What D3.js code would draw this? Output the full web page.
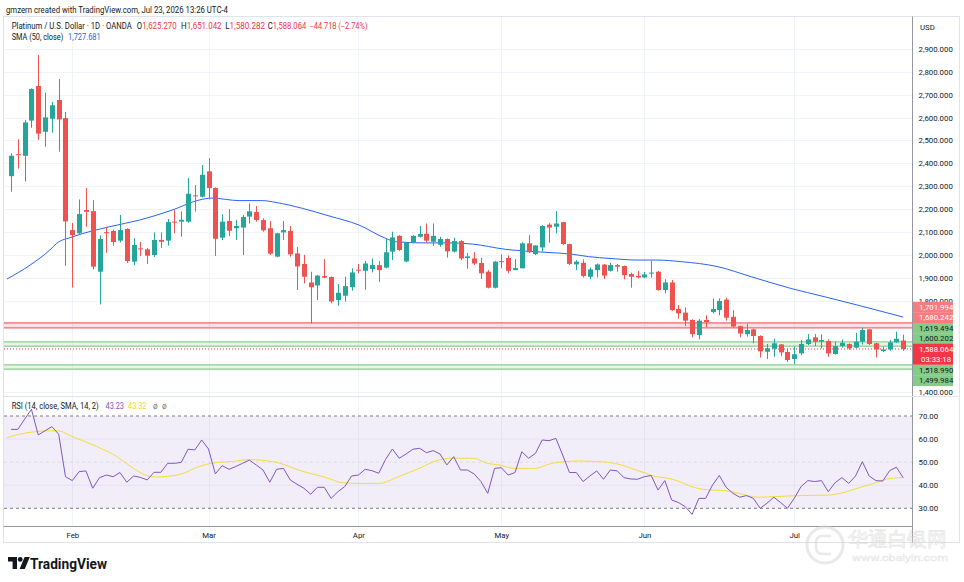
<!DOCTYPE html>
<html>
<head>
<meta charset="utf-8">
<script src="https://cdn.jsdelivr.net/npm/d3@7"></script>
<style>
body { margin: 0; background: #fff; }
text { font-family: Roboto, "Liberation Sans", sans-serif; }
</style>
</head>
<body>
<script>
// daily candles, Jan 20 -> Jul 23 2026, index = bar number
var opens = [2344,2440,2433,2587,2738,2538,2595,2677,2598,2108,
  2094,2196,2191,1926,2099,2104,2062,2113,1970,2028,
  2024,1999,2065,2062,2145,2145,2145,2260,2254,2365,
  2292,2075,2148,2116,2119,2167,2187,2152,2116,1992,
  2098,2104,2006,1960,1879,1866,1907,1903,1802,1821,
  1858,1935,1930,1938,1955,1944,2014,2083,1971,2053,
  2079,2092,2057,2044,2069,2014,2060,1986,1984,1964,
  1926,1856,1969,1986,1933,1941,2050,2003,2032,2132,
  2123,2143,2047,1958,1965,1904,1933,1957,1930,1955,
  1951,1916,1908,1901,1919,1926,1846,1879,1763,1747,
  1715,1649,1715,1750,1758,1804,1729,1688,1653,1674,
  1645,1576,1589,1608,1575,1544,1569,1610,1639,1620,
  1623,1566,1601,1610,1594,1620,1674,1613,1579,1586,
  1617,1625.270];
var highs = [2444,2505,2590,2728,2874,2709,2668,2769,2625,2139,
  2242,2292,2239,2085,2123,2110,2174,2116,2073,2056,
  2030,2098,2098,2157,2196,2190,2336,2305,2393,2423,
  2295,2177,2200,2152,2174,2225,2213,2160,2148,2096,
  2148,2126,2034,2000,1926,1912,1981,1905,1872,1904,
  1941,1960,1973,1984,1973,2069,2101,2086,2055,2086,
  2126,2137,2137,2079,2072,2075,2065,2008,2012,1987,
  1933,1973,2002,1997,1981,2055,2086,2041,2130,2140,
  2191,2143,2049,1977,1980,1944,1962,1960,1965,1960,
  1953,1922,1929,1925,1974,1929,1893,1890,1780,1770,
  1718,1719,1735,1809,1809,1812,1758,1690,1697,1677,
  1648,1610,1633,1610,1589,1598,1627,1653,1653,1652,
  1630,1620,1630,1612,1659,1681,1676,1615,1598,1627,
  1664,1651.042];
var lows = [2276,2377,2320,2556,2503,2473,2534,2451,1952,1857,
  2090,2123,1936,1783,2009,2040,2054,1965,1955,1995,
  1960,1990,2030,2040,2094,2079,2140,2189,2250,2242,
  1995,2064,2082,2065,1999,2137,2145,2101,1999,1989,
  2065,1992,1846,1875,1700,1802,1897,1788,1777,1795,
  1843,1919,1847,1923,1882,1941,1977,2016,1968,2050,
  2076,2053,2038,2035,1988,2011,1977,1939,1955,1894,
  1853,1853,1941,1919,1933,1941,2008,1999,2014,2053,
  2094,2043,1955,1933,1901,1893,1901,1894,1927,1926,
  1893,1856,1897,1897,1901,1843,1831,1755,1722,1688,
  1639,1630,1683,1744,1736,1712,1682,1639,1642,1613,
  1551,1544,1554,1557,1532,1522,1561,1605,1601,1591,
  1554,1564,1594,1584,1591,1608,1605,1551,1575,1580,
  1615,1580.282];
var closes = [2433,2437,2579,2725,2530,2601,2654,2592,2146,2086,
  2178,2188,1948,2069,2094,2056,2108,1973,2043,2025,
  1996,2065,2057,2143,2141,2153,2267,2257,2350,2292,
  2070,2145,2105,2126,2165,2190,2152,2107,2005,2094,
  2108,2002,1949,1904,1858,1909,1900,1796,1834,1863,
  1923,1932,1962,1955,1933,2011,2076,2021,2053,2083,
  2091,2062,2083,2069,2015,2060,1984,1993,1962,1919,
  1856,1970,1972,1930,1942,2050,2011,2041,2126,2119,
  2137,2047,1960,1970,1907,1936,1958,1909,1955,1948,
  1911,1904,1901,1914,1922,1846,1879,1758,1744,1712,
  1653,1712,1706,1763,1798,1725,1686,1656,1671,1645,
  1578,1591,1613,1573,1540,1565,1610,1630,1620,1627,
  1569,1601,1615,1591,1620,1671,1610,1586,1586,1617,
  1632.782,1588.064];

// SMA(50): [bar, price]
var smaPts = [[-0.6,1894],[2.8,1955],[5.7,2021],[6.7,2050],[9.1,2079],[14.5,2123],
  [18.9,2152],[23.7,2196],[27.7,2240],[29.5,2248],[33.5,2237],[36.9,2237],
  [38.9,2229],[42.8,2203],[46.7,2170],[51.1,2130],[55,2072],[56.5,2057],
  [60.9,2052],[64.3,2052],[67.7,2047],[72.6,2024],[78.4,2011],[82.3,2003],
  [84.8,1992],[88,1984],[92,1977],[95,1977],[98.4,1970],[103.8,1948],
  [108.7,1904],[114.5,1853],[119.4,1817],[124.3,1780],[131,1727.681]];

// RSI(14) per bar
var rsi = [64.2,64.2,68.6,72.9,61.8,63.6,65.4,62.1,43.7,42.0,
  45.9,46.2,38.7,43.3,44.4,43.7,45.5,41.3,44.0,43.4,
  42.3,45.6,45.6,49.5,49.5,49.9,55.6,55.3,59.6,55.7,
  44.9,48.5,46.9,48.1,49.5,50.9,48.8,46.6,41.3,46.9,
  47.3,42.3,40.4,38.7,36.1,39.1,39.1,34.3,37.2,39.4,
  44.0,44.4,46.9,46.3,45.2,51.2,55.7,51.7,53.5,55.6,
  56.0,54.1,55.0,53.5,48.8,52.4,46.6,46.6,44.9,41.6,
  36.5,47.3,47.6,44.4,45.5,54.5,51.7,53.8,59.6,59.3,
  60.3,53.1,45.5,45.5,41.6,44.0,46.2,42.6,46.6,46.2,
  43.3,42.7,42.6,43.7,44.2,37.9,42.0,33.6,32.5,30.7,
  27.4,34.3,34.3,40.1,44.2,39.1,36.5,34.8,35.5,34.3,
  30.0,32.2,34.8,32.5,30.0,34.3,39.4,42.0,41.6,42.0,
  37.2,41.1,43.3,40.8,44.0,50.2,44.0,42.0,41.8,46.3,
  47.8,43.23];
// RSI-based MA (SMA 14): [bar, value]
var rsiMaPts = [[-0.6,60.6],[1.3,62.1],[3,63.0],[5.7,63.6],[6.9,63.6],[8.9,61.2],
  [12.5,56.9],[15.5,52.5],[17.2,48.9],[20.3,43.9],[21.3,43.6],[24.7,44.6],
  [27.7,48.2],[29.6,49.6],[32.5,50.3],[35,51.1],[36.9,50.8],[39.4,49.6],
  [42.3,46.5],[43.8,45.2],[46.2,43.4],[48.6,41.1],[51.1,40.8],[54,40.8],
  [56.9,43.7],[59.9,47.3],[62.8,50.9],[64.7,51.7],[67.9,51.7],[69.9,49.5],
  [71.6,48.8],[74,47.3],[76.9,47.3],[79.4,49.5],[81.3,50.2],[83.3,50.5],
  [86.2,50.2],[87.7,49.9],[89.6,48.8],[91.1,47.3],[93.5,44.9],[94.7,43.7],
  [95.9,43.3],[97.9,41.9],[99.9,39.4],[102.3,38.0],[104.7,37.7],[106.7,36.6],
  [109.6,34.8],[112.5,35.1],[114.5,35.4],[117.4,35.6],[119.9,35.7],[122.3,36.9],
  [124.7,39.1],[126.7,40.8],[128.6,42.7],[131,43.32]];

var months = ['Feb', 'Mar', 'Apr', 'May', 'Jun', 'Jul'];
var monthBars = [9, 29, 51, 72, 93, 115];
var priceTicks = [1400,1500,1600,1700,1800,1900,2000,2100,2200,2300,2400,2500,2600,2700,2800,2900];
var rsiTicks = [30, 40, 50, 60, 70];
var resistance = [1701.994, 1680.242];
var support1 = [1619.494, 1600.202];
var support2 = [1518.990, 1499.984];

var up = '#26a69a', down = '#ef5350', dark = '#131722';
var fmt = d3.format(',.3f');
var n = closes.length;

//svg
var svg = d3.select('body')
    .append('svg')
    .attr('width', 964)
    .attr('height', 582)
    .style('display', 'block');

var x = d3.scaleLinear().domain([0, n - 1]).range([11, 903.2]);
var y = d3.scaleLinear().domain([1400, 2900]).range([392, 49]);
var yr = d3.scaleLinear().domain([30, 70]).range([508.3, 416]);

var defs = svg.append('defs');
defs.append('clipPath').attr('id', 'cmain')
    .append('rect').attr('x', 4).attr('y', 17).attr('width', 908).attr('height', 379);
defs.append('clipPath').attr('id', 'crsi')
    .append('rect').attr('x', 4).attr('y', 397).attr('width', 908).attr('height', 129);

//top credit line
svg.append('text')
    .attr('x', 6).attr('y', 12.5)
    .attr('font-size', 9).attr('fill', dark)
    .attr('textLength', 222).attr('lengthAdjust', 'spacingAndGlyphs')
    .text('gmzern created with TradingView.com, Jul 23, 2026 13:26 UTC-4');

//grid
var grid = svg.append('g');
grid.selectAll('.hg').data(priceTicks).enter().append('line')
    .attr('x1', 4).attr('x2', 912)
    .attr('y1', function (d) { return Math.round(y(d)) + 0.5; })
    .attr('y2', function (d) { return Math.round(y(d)) + 0.5; })
    .attr('stroke', '#f0f3fa');
grid.selectAll('.vg').data(monthBars).enter().append('line')
    .attr('x1', function (d) { return Math.round(x(d)) + 0.5; })
    .attr('x2', function (d) { return Math.round(x(d)) + 0.5; })
    .attr('y1', 17).attr('y2', 526)
    .attr('stroke', '#f0f3fa');

//horizontal levels
var main = svg.append('g').attr('clip-path', 'url(#cmain)');
function band(levels, lineCol, fillCol) {
    main.append('rect')
        .attr('x', 4).attr('width', 908)
        .attr('y', y(levels[0])).attr('height', y(levels[1]) - y(levels[0]))
        .attr('fill', fillCol);
    main.selectAll(null).data(levels).enter().append('line')
        .attr('x1', 4).attr('x2', 912)
        .attr('y1', function (d) { return y(d); })
        .attr('y2', function (d) { return y(d); })
        .attr('stroke', lineCol).attr('stroke-width', 1.2);
}
band(resistance, '#f26b72', 'rgba(242,54,69,0.16)');
band(support1, '#8ccf8f', 'rgba(76,175,80,0.13)');
band(support2, '#8ccf8f', 'rgba(76,175,80,0.13)');

main.append('line')
    .attr('x1', 4).attr('x2', 912)
    .attr('y1', y(closes[n - 1])).attr('y2', y(closes[n - 1]))
    .attr('stroke', '#f23645').attr('stroke-dasharray', '1,2');

//sma
main.append('path')
    .datum(smaPts)
    .attr('fill', 'none')
    .attr('stroke', '#2962ff')
    .attr('stroke-width', 1)
    .attr('d', d3.line().curve(d3.curveMonotoneX)
        .x(function (d) { return x(d[0]); })
        .y(function (d) { return y(d[1]); }));

//candles
var bars = d3.range(n);
main.selectAll('.wick').data(bars).enter().append('line')
    .attr('x1', function (i) { return Math.round(x(i)) + 0.5; })
    .attr('x2', function (i) { return Math.round(x(i)) + 0.5; })
    .attr('y1', function (i) { return y(highs[i]); })
    .attr('y2', function (i) { return y(lows[i]); })
    .attr('stroke', function (i) { return closes[i] >= opens[i] ? up : down; });
main.selectAll('.body').data(bars).enter().append('rect')
    .attr('x', function (i) { return Math.round(x(i)) - 2; })
    .attr('width', 5)
    .attr('y', function (i) { return y(Math.max(opens[i], closes[i])); })
    .attr('height', function (i) { return Math.max(1, Math.abs(y(opens[i]) - y(closes[i]))); })
    .attr('fill', function (i) { return closes[i] >= opens[i] ? up : down; });

//legend
var leg = svg.append('g').attr('font-size', 8.3);
leg.append('text').attr('x', 11.7).attr('y', 29).attr('fill', dark)
    .attr('textLength', 120).attr('lengthAdjust', 'spacingAndGlyphs')
    .text('Platinum / U.S. Dollar \u00b7 1D \u00b7 OANDA');
var ohlc = [['O', opens[n - 1], 136.8, 39.9], ['H', highs[n - 1], 181, 40.6],
            ['L', lows[n - 1], 225.2, 39.8], ['C', closes[n - 1], 267.8, 38.4]];
ohlc.forEach(function (d) {
    var t = leg.append('text').attr('x', d[2]).attr('y', 29).attr('fill', dark)
        .attr('textLength', d[3]).attr('lengthAdjust', 'spacingAndGlyphs');
    t.append('tspan').text(d[0]);
    t.append('tspan').attr('fill', '#f23645').text(fmt(d[1]));
});
var chg = closes[n - 1] - closes[n - 2];
leg.append('text').attr('x', 309.5).attr('y', 29).attr('fill', '#f23645')
    .attr('textLength', 58).attr('lengthAdjust', 'spacingAndGlyphs')
    .text(fmt(chg).replace('-', '\u2212') + ' (' + d3.format('.2f')(chg / closes[n - 2] * 100).replace('-', '\u2212') + '%)');
leg.append('text').attr('x', 11.7).attr('y', 39.8).attr('fill', dark)
    .attr('textLength', 51.6).attr('lengthAdjust', 'spacingAndGlyphs')
    .text('SMA (50, close)');
leg.append('text').attr('x', 68).attr('y', 39.8).attr('fill', '#2962ff')
    .attr('textLength', 32.7).attr('lengthAdjust', 'spacingAndGlyphs')
    .text(fmt(smaPts[smaPts.length - 1][1]));

//rsi pane
var rp = svg.append('g').attr('clip-path', 'url(#crsi)');
rp.append('rect').attr('x', 4).attr('width', 908)
    .attr('y', yr(70)).attr('height', yr(30) - yr(70))
    .attr('fill', 'rgba(126,87,194,0.1)');
rp.selectAll(null).data([60, 40]).enter().append('line')
    .attr('x1', 4).attr('x2', 912)
    .attr('y1', function (d) { return yr(d); }).attr('y2', function (d) { return yr(d); })
    .attr('stroke', '#e6e1f3');
rp.selectAll(null).data([70, 50, 30]).enter().append('line')
    .attr('x1', 4).attr('x2', 912)
    .attr('y1', function (d) { return yr(d); }).attr('y2', function (d) { return yr(d); })
    .attr('stroke', function (d) { return d == 50 ? '#dcdce2' : '#787b86'; })
    .attr('stroke-dasharray', '3,3');
rp.append('path')
    .datum(rsiMaPts)
    .attr('fill', 'none').attr('stroke', '#f5dc3a').attr('stroke-width', 1)
    .attr('d', d3.line().curve(d3.curveMonotoneX)
        .x(function (d) { return x(d[0]); })
        .y(function (d) { return yr(d[1]); }));
rp.append('path')
    .datum(rsi)
    .attr('fill', 'none').attr('stroke', '#7e57c2').attr('stroke-width', 1)
    .attr('d', d3.line()
        .x(function (d, i) { return x(i); })
        .y(function (d) { return yr(d); }));

var rl = svg.append('g').attr('font-size', 8.3);
rl.append('text').attr('x', 11.7).attr('y', 408.6).attr('fill', dark)
    .attr('textLength', 87).attr('lengthAdjust', 'spacingAndGlyphs')
    .text('RSI (14, close, SMA, 14, 2)');
rl.append('text').attr('x', 105.5).attr('y', 408.6).attr('fill', '#7e57c2')
    .attr('textLength', 18.5).attr('lengthAdjust', 'spacingAndGlyphs')
    .text(d3.format('.2f')(rsi[n - 1]));
rl.append('text').attr('x', 128).attr('y', 408.6).attr('fill', '#f2d22e')
    .attr('textLength', 18.5).attr('lengthAdjust', 'spacingAndGlyphs')
    .text(d3.format('.2f')(rsiMaPts[rsiMaPts.length - 1][1]));
rl.append('text').attr('x', 153).attr('y', 408.6).attr('fill', '#787b86').text('\u00f8');
rl.append('text').attr('x', 162).attr('y', 408.6).attr('fill', '#787b86').text('\u00f8');

//frame
svg.append('rect').attr('x', 3.5).attr('y', 16.5).attr('width', 956).attr('height', 526)
    .attr('fill', 'none').attr('stroke', '#e0e3eb');
svg.append('line').attr('x1', 912.5).attr('x2', 912.5).attr('y1', 16.5).attr('y2', 542.5)
    .attr('stroke', '#9598a1');
svg.append('line').attr('x1', 3.5).attr('x2', 959.5).attr('y1', 396.5).attr('y2', 396.5)
    .attr('stroke', '#e0e3eb');
svg.append('line').attr('x1', 3.5).attr('x2', 912.5).attr('y1', 526.5).attr('y2', 526.5)
    .attr('stroke', '#9598a1');

//price tags on the axis, stacked around the last price
var h = 10.5;
var last = closes[n - 1];
var cy = y(last);
var tags = [];
var topY = cy - h / 2;
resistance.concat(support1).filter(function (v) { return v > last; })
    .sort(d3.ascending)
    .forEach(function (v) {
        var yy = Math.min(y(v), topY - h / 2);
        tags.push({ v: v, y: yy, up: resistance.indexOf(v) >= 0 });
        topY = yy - h / 2;
    });
var botY = cy + h * 1.5;
support2.slice().sort(d3.descending)
    .forEach(function (v) {
        var yy = Math.max(y(v), botY + h / 2);
        tags.push({ v: v, y: yy, up: false });
        botY = yy + h / 2;
    });

//price axis, labels under the tags are hidden
var shown = priceTicks.filter(function (d) { return y(d) < topY || y(d) > botY; });
var pa = svg.append('g')
    .attr('transform', 'translate(912.5,0)')
    .call(d3.axisRight(y).tickValues(shown).tickSize(0).tickPadding(6).tickFormat(fmt));
pa.select('.domain').remove();
pa.selectAll('text').attr('font-size', 7.8).attr('fill', dark).attr('font-family', 'Roboto, sans-serif');

var ra = svg.append('g')
    .attr('transform', 'translate(912.5,0)')
    .call(d3.axisRight(yr).tickValues(rsiTicks).tickSize(0).tickPadding(6).tickFormat(d3.format('.2f')));
ra.select('.domain').remove();
ra.selectAll('text').attr('font-size', 7.8).attr('fill', dark).attr('font-family', 'Roboto, sans-serif');

svg.append('text').attr('x', 920).attr('y', 30).attr('font-size', 7.8).attr('fill', dark).text('USD');

//time axis
var ta = svg.append('g')
    .attr('transform', 'translate(0,526.5)')
    .call(d3.axisBottom(x).tickValues(monthBars).tickSize(0).tickPadding(6)
        .tickFormat(function (d, i) { return months[i]; }));
ta.select('.domain').remove();
ta.selectAll('text').attr('font-size', 7.8).attr('fill', dark).attr('font-family', 'Roboto, sans-serif');

var tg = svg.append('g').attr('font-size', 7.8);
tags.forEach(function (t) {
    tg.append('rect').attr('x', 913).attr('width', 40)
        .attr('y', t.y - h / 2).attr('height', h + 0.3)
        .attr('fill', t.up ? '#f77c80' : '#85cc88');
    tg.append('text').attr('x', 919).attr('y', t.y + 2.8)
        .attr('fill', t.up ? '#fff' : dark).text(fmt(t.v));
});
tg.append('rect').attr('x', 913).attr('width', 40)
    .attr('y', cy - h / 2).attr('height', 2 * h)
    .attr('fill', '#f23645');
tg.append('text').attr('x', 919).attr('y', cy + 2.8).attr('fill', '#fff').text(fmt(last));
tg.append('text').attr('x', 921).attr('y', cy + 12.8).attr('fill', '#fff').text('03:33:18');

//tradingview logo
var logo = svg.append('g').attr('transform', 'translate(8,557)').attr('fill', dark);
logo.append('path').attr('d', 'M0 0h9v12h-4.4v-7.6h-4.6z');
logo.append('circle').attr('cx', 12.2).attr('cy', 2.4).attr('r', 2.4);
logo.append('path').attr('d', 'M16.6 0h5.2l-5 12h-5.2z');
svg.append('text').attr('x', 30).attr('y', 568.5)
    .attr('font-size', 14).attr('font-weight', 'bold').attr('fill', dark)
    .attr('textLength', 77).attr('lengthAdjust', 'spacingAndGlyphs')
    .text('TradingView');

//faint site watermark
var wm = svg.append('g').attr('opacity', 0.5);
wm.append('circle').attr('cx', 825).attr('cy', 545).attr('r', 18)
    .attr('fill', 'none').attr('stroke', '#d4d4d4').attr('stroke-width', 3);
wm.append('path').attr('d', 'M831 536h-9a6 6 0 0 0 -6 6v6a6 6 0 0 0 6 6h9')
    .attr('fill', 'none').attr('stroke', '#d4d4d4').attr('stroke-width', 2.5);
wm.append('text').attr('x', 848).attr('y', 546).attr('font-size', 20)
    .attr('font-family', '"Noto Sans CJK SC", sans-serif')
    .attr('textLength', 99).attr('lengthAdjust', 'spacingAndGlyphs')
    .attr('fill', '#fff').attr('stroke', '#cfcfcf').attr('stroke-width', 0.8)
    .text('华通白银网');
wm.append('text').attr('x', 852).attr('y', 561).attr('font-size', 9)
    .attr('textLength', 96).attr('lengthAdjust', 'spacingAndGlyphs')
    .attr('fill', '#fff').attr('stroke', '#d0d0d0').attr('stroke-width', 0.5)
    .text('www.cbaiyin.com');
</script>
</body>
</html>
